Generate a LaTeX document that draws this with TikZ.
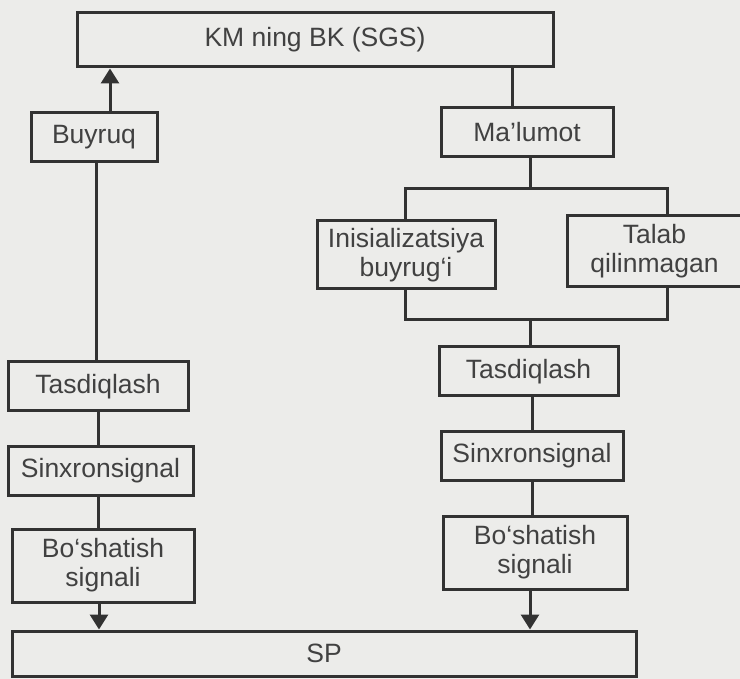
\documentclass[tikz,border=0pt]{standalone}
\usepackage{fontspec}
\setmainfont{Liberation Sans}
\usetikzlibrary{arrows.meta}
\definecolor{paper}{RGB}{236,236,234}
\definecolor{ink}{RGB}{50,50,50}
\definecolor{txt}{RGB}{65,65,65}
\tikzset{
  blk/.style={draw=ink, line width=3pt, fill=paper, inner sep=0pt,
    text=txt, align=center, font=\fontsize{26.5}{29}\selectfont},
  wire/.style={draw=ink, line width=3pt},
  arr/.style={wire, -{Triangle[width=18pt,length=15pt]}}
}
\begin{document}
\begin{tikzpicture}[x=1pt,y=-1pt]
  \fill[paper] (0,0) rectangle (740,679);
  \useasboundingbox (0,0) rectangle (740,679);

  % boxes
  \node[blk, minimum width=476pt, minimum height=54pt] (km) at (315,40) {KM ning BK (SGS)};
  \node[blk, minimum width=126pt, minimum height=49pt] (buy) at (94,137.5) {Buyruq};
  \node[blk, minimum width=172pt, minimum height=49pt] (mal) at (527,132.5) {Ma’lumot};
  \node[blk, minimum width=178pt, minimum height=68pt] (ini) at (406,255) {Inisializatsiya\\buyrug‘i};
  \node[blk, minimum width=175pt, minimum height=71pt] (tal) at (654.5,251.5) {Talab\\qilinmagan};
  \node[blk, minimum width=180pt, minimum height=49pt] (tasL) at (98,386.5) {Tasdiqlash};
  \node[blk, minimum width=179pt, minimum height=49pt] (tasR) at (528.5,371.5) {Tasdiqlash};
  \node[blk, minimum width=185pt, minimum height=48pt] (sinL) at (100.5,471) {Sinxronsignal};
  \node[blk, minimum width=182pt, minimum height=48pt] (sinR) at (532,456) {Sinxronsignal};
  \node[blk, minimum width=182pt, minimum height=73pt] (boL) at (103,565.5) {Bo‘shatish\\signali};
  \node[blk, minimum width=184pt, minimum height=73pt] (boR) at (535,552.5) {Bo‘shatish\\signali};
  \node[blk, minimum width=624pt, minimum height=45pt] (sp) at (324,653.5) {SP};

  % columns of the vertical wires
  \coordinate (cA) at (110,0);
  \coordinate (cB) at (96,0);
  \coordinate (cC) at (98,0);
  \coordinate (cD) at (99,0);
  \coordinate (cE) at (512,0);
  \coordinate (cF) at (530,0);
  \coordinate (cG) at (532,0);
  \coordinate (cH) at (405,0);
  \coordinate (cI) at (667,0);
  % rows of the split/merge bars
  \coordinate (rTop) at (0,189);
  \coordinate (rBot) at (0,320);

  % left chain
  \draw[arr] (cA |- buy.north) -- (cA |- km.south);
  \draw[wire] (cB |- buy.south) -- (cB |- tasL.north);
  \draw[wire] (cC |- tasL.south) -- (cC |- sinL.north);
  \draw[wire] (cC |- sinL.south) -- (cC |- boL.north);
  \draw[arr] (cD |- boL.south) -- (cD |- sp.north);

  % right chain
  \draw[wire] (cE |- km.south) -- (cE |- mal.north);
  \draw[wire] (cF |- mal.south) -- (cF |- rTop);
  \draw[wire] (cH |- ini.north) -- (cH |- rTop) -- (cI |- rTop) -- (cI |- tal.north);
  \draw[wire] (cH |- ini.south) -- (cH |- rBot) -- (cI |- rBot) -- (cI |- tal.south);
  \draw[wire] (cF |- rBot) -- (cF |- tasR.north);
  \draw[wire] (cG |- tasR.south) -- (cG |- sinR.north);
  \draw[wire] (cG |- sinR.south) -- (cG |- boR.north);
  \draw[arr] (cF |- boR.south) -- (cF |- sp.north);
\end{tikzpicture}
\end{document}
